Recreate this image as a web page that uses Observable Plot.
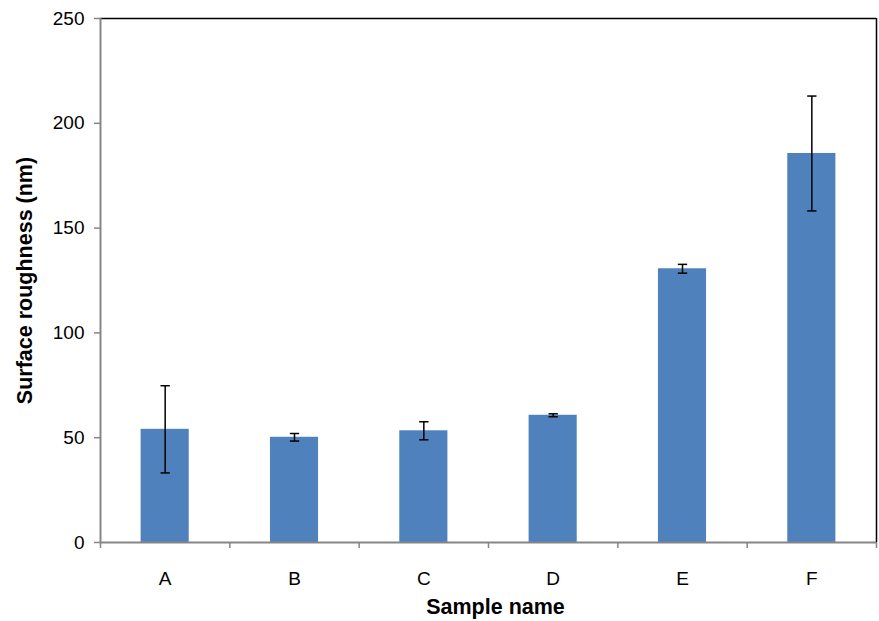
<!DOCTYPE html>
<html>
<head>
<meta charset="utf-8">
<script src="https://cdn.jsdelivr.net/npm/d3@7"></script>
<script src="https://cdn.jsdelivr.net/npm/@observablehq/plot@0.6"></script>
<style>
  html, body { margin: 0; padding: 0; background: #fff; }
  #chart svg { display: block; }
</style>
</head>
<body>
<div id="chart"></div>
<script>
const categories = ["A", "B", "C", "D", "E", "F"];
const roughness = [54.0, 50.2, 53.3, 60.7, 130.6, 185.6];
const errors = [20.8, 1.8, 4.3, 0.7, 2.1, 27.4];
const yTicks = [0, 50, 100, 150, 200, 250];

const data = categories.map((c, i) => ({
  name: c,
  pos: i + 0.5,
  value: roughness[i],
  lo: roughness[i] - errors[i],
  hi: roughness[i] + errors[i]
}));
const boundaries = d3.range(categories.length + 1);
const halfBar = 0.186;
const halfCap = 0.036;

const font = "'Liberation Sans', Arial, Helvetica, sans-serif";

const chart = Plot.plot({
  width: 879,
  height: 621,
  marginLeft: 100,
  marginRight: 3,
  marginTop: 18,
  marginBottom: 79,
  style: { fontFamily: font, fontSize: "19px", color: "#000", background: "#fff" },
  x: { type: "linear", domain: [0, categories.length], axis: null },
  y: { domain: [0, 250], axis: null },
  marks: [
    Plot.rectY(data, {
      x1: d => d.pos - halfBar,
      x2: d => d.pos + halfBar,
      y1: 0,
      y2: "value",
      fill: "#4F81BD"
    }),
    // frame top and right (black)
    Plot.ruleY([250], { stroke: "#000", strokeWidth: 1.5 }),
    Plot.ruleX([categories.length], { stroke: "#000", strokeWidth: 1.5 }),
    // axis lines (gray)
    Plot.ruleX([0], { stroke: "#868686", strokeWidth: 2 }),
    Plot.ruleY([0], { stroke: "#868686", strokeWidth: 2 }),
    Plot.axisY({
      ticks: yTicks,
      tickSize: 6,
      tickPadding: 10,
      stroke: "#868686",
      strokeWidth: 1.5,
      fontSize: 19,
      fill: "#000",
      label: null
    }),
    Plot.axisX({
      ticks: boundaries,
      tickSize: 6,
      tickFormat: () => "",
      stroke: "#868686",
      strokeWidth: 1.5,
      label: null
    }),
    // category labels
    Plot.text(data, {
      x: "pos",
      y: 0,
      text: "name",
      dy: 36,
      fontSize: 19,
      fill: "#000"
    }),
    // error bars
    Plot.link(data, {
      x1: "pos", x2: "pos", y1: "lo", y2: "hi",
      stroke: "#000", strokeWidth: 1.5
    }),
    Plot.link(data, {
      x1: d => d.pos - halfCap, x2: d => d.pos + halfCap, y1: "hi", y2: "hi",
      stroke: "#000", strokeWidth: 1.5
    }),
    Plot.link(data, {
      x1: d => d.pos - halfCap, x2: d => d.pos + halfCap, y1: "lo", y2: "lo",
      stroke: "#000", strokeWidth: 1.5
    }),
    // axis titles
    Plot.text(["Sample name"], {
      frameAnchor: "bottom",
      dy: 71,
      dx: 7,
      text: d => d,
      fontSize: 21.5,
      fontWeight: "bold",
      fill: "#000"
    }),
    Plot.text(["Surface roughness (nm)"], {
      frameAnchor: "left",
      textAnchor: "middle",
      dx: -75,
      rotate: -90,
      text: d => d,
      fontSize: 21.5,
      fontWeight: "bold",
      fill: "#000"
    })
  ]
});

document.getElementById("chart").appendChild(chart);
</script>
</body>
</html>
